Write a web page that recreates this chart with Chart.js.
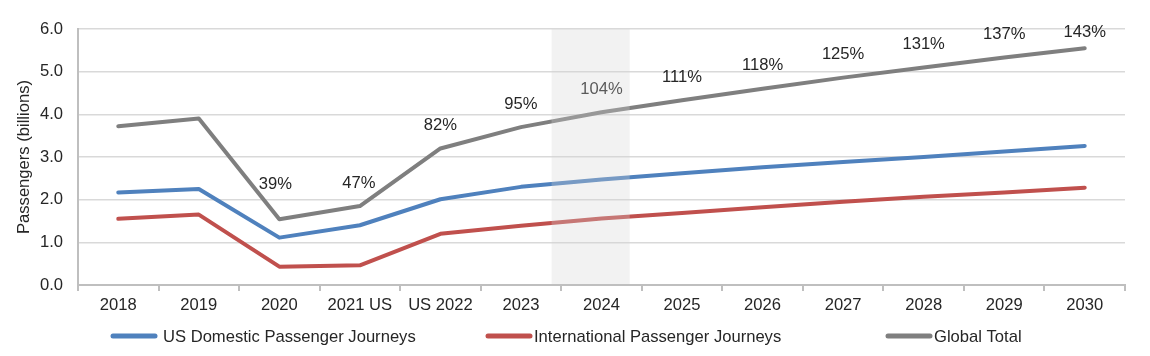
<!DOCTYPE html>
<html><head><meta charset="utf-8">
<script src="https://cdn.jsdelivr.net/npm/chart.js@4.4.1/dist/chart.umd.min.js"></script>
<style>html,body{margin:0;padding:0;background:#fff;}#wrap{width:1150px;height:356px;position:relative;}</style>
</head><body><div id="wrap"><canvas id="c" width="1150" height="356"></canvas></div>
<script>
// ---- data ----
const years = ['2018','2019','2020','2021','2022','2023','2024','2025','2026','2027','2028','2029','2030'];
const tickLabels = ['2018','2019','2020','2021 US','US 2022','2023','2024','2025','2026','2027','2028','2029','2030'];
const usDomestic = [2.17,2.25,1.11,1.40,2.01,2.30,2.47,2.62,2.76,2.88,3.00,3.13,3.26];
const international = [1.55,1.65,0.43,0.46,1.20,1.39,1.56,1.69,1.82,1.95,2.07,2.17,2.28];
const globalTotal = [3.72,3.90,1.54,1.85,3.20,3.70,4.05,4.33,4.60,4.86,5.10,5.33,5.55];
const recoveryLabels = ['','','39%','47%','82%','95%','104%','111%','118%','125%','131%','137%','143%'];
const yTicks = [0,1,2,3,4,5,6];
const highlightYear = '2024';
const seriesNames = ['US Domestic Passenger Journeys','International Passenger Journeys','Global Total'];
const yTitle = 'Passengers (billions)';

// ---- styles ----
const FONT = "'Liberation Sans', Arial, sans-serif";
const FS = 16.6;
const TEXT = '#262626';
const BLUE = '#4F81BD', RED = '#C0504D', GRAY = '#7F7F7F';

const recoveryPlugin = {
  id: 'recovery',
  afterDatasetsDraw(chart, args, opts) {
    const ctx = chart.ctx;
    const meta = chart.getDatasetMeta(opts.datasetIndex);
    const area = chart.chartArea;
    ctx.save();
    ctx.font = FS + 'px ' + FONT;
    ctx.fillStyle = TEXT;
    ctx.textAlign = 'center';
    ctx.textBaseline = 'middle';
    meta.data.forEach((pt, i) => {
      const txt = recoveryLabels[i];
      if (!txt) return;
      const nudge = opts.nudge[i] || [0, 0];
      let y = pt.y - opts.offset + nudge[1];
      y = Math.max(y, area.top + opts.minTop);
      ctx.fillText(txt, pt.x + nudge[0], y);
    });
    ctx.restore();
    // highlight band (drawn over the lines, semi-transparent)
    const xs = chart.scales.x;
    const idx = years.indexOf(highlightYear);
    const c = xs.getPixelForValue(idx);
    const w = xs.getPixelForValue(1) - xs.getPixelForValue(0);
    ctx.save();
    ctx.fillStyle = opts.bandColor;
    ctx.fillRect(c - opts.bandLeft * w, area.top, (opts.bandLeft + opts.bandRight) * w, area.bottom - area.top - 1);
    ctx.restore();
  }
};

const legendPlugin = {
  id: 'customLegend',
  afterDraw(chart, args, opts) {
    const ctx = chart.ctx;
    ctx.save();
    ctx.font = FS + 'px ' + FONT;
    ctx.textBaseline = 'middle';
    ctx.textAlign = 'left';
    chart.data.datasets.forEach((ds, i) => {
      const x = opts.xs[i];
      ctx.strokeStyle = ds.borderColor;
      ctx.lineWidth = opts.lineWidth;
      ctx.lineCap = 'round';
      ctx.beginPath();
      ctx.moveTo(x + 3, opts.y);
      ctx.lineTo(x + opts.lineLen - 3, opts.y);
      ctx.stroke();
      ctx.fillStyle = TEXT;
      ctx.fillText(ds.label, x + opts.lineLen + opts.gap[i], opts.y + 1);
    });
    ctx.restore();
  }
};

const lineDs = (label, data, color) => ({
  label, data, borderColor: color, backgroundColor: color,
  borderWidth: 4, pointRadius: 0, pointHoverRadius: 0, tension: 0,
  borderCapStyle: 'round', borderJoinStyle: 'round', fill: false
});

new Chart(document.getElementById('c'), {
  type: 'line',
  data: {
    labels: years,
    datasets: [
      lineDs(seriesNames[0], usDomestic, BLUE),
      lineDs(seriesNames[1], international, RED),
      lineDs(seriesNames[2], globalTotal, GRAY)
    ]
  },
  options: {
    responsive: false,
    animation: false,
    devicePixelRatio: 1,
    layout: { padding: { left: 8, right: 25, top: 29, bottom: 0 } },
    plugins: {
      legend: { display: false },
      tooltip: { enabled: false },
      recovery: {
        datasetIndex: 2, offset: 23, minTop: 3,
        nudge: { 2: [-4, -12], 3: [-1, 0] },
        bandColor: 'rgba(212,212,212,0.3)', bandLeft: 0.62, bandRight: 0.35
      },
      customLegend: { xs: [110, 485, 885], y: 336, lineLen: 48, lineWidth: 5, gap: [5, 1, 1] }
    },
    scales: {
      x: {
        offset: true,
        grid: { display: true, drawOnChartArea: false, drawTicks: true, tickLength: 6, offset: true, color: '#BFBFBF', lineWidth: 2 },
        border: { display: true, color: '#BFBFBF', width: 2 },
        ticks: {
          autoSkip: false, maxRotation: 0, minRotation: 0, padding: 4,
          color: TEXT, font: { family: FONT, size: FS },
          callback: (v, i) => tickLabels[i]
        },
        afterFit: s => { s.height = 356 - 285; }
      },
      y: {
        min: 0, max: 6,
        afterBuildTicks: s => { s.ticks = yTicks.map(v => ({ value: v })); },
        grid: { color: '#D9D9D9', lineWidth: 1.5, drawTicks: false },
        border: { display: true, color: '#BFBFBF', width: 2 },
        ticks: { padding: 15, color: TEXT, font: { family: FONT, size: FS }, callback: v => Number(v).toFixed(1) },
        title: { display: true, text: yTitle, color: TEXT, font: { family: FONT, size: FS }, padding: { top: 6, bottom: 0 } },
        afterFit: s => { s.width = 78 - 8; }
      }
    }
  },
  plugins: [recoveryPlugin, legendPlugin]
});
</script>
</body></html>
